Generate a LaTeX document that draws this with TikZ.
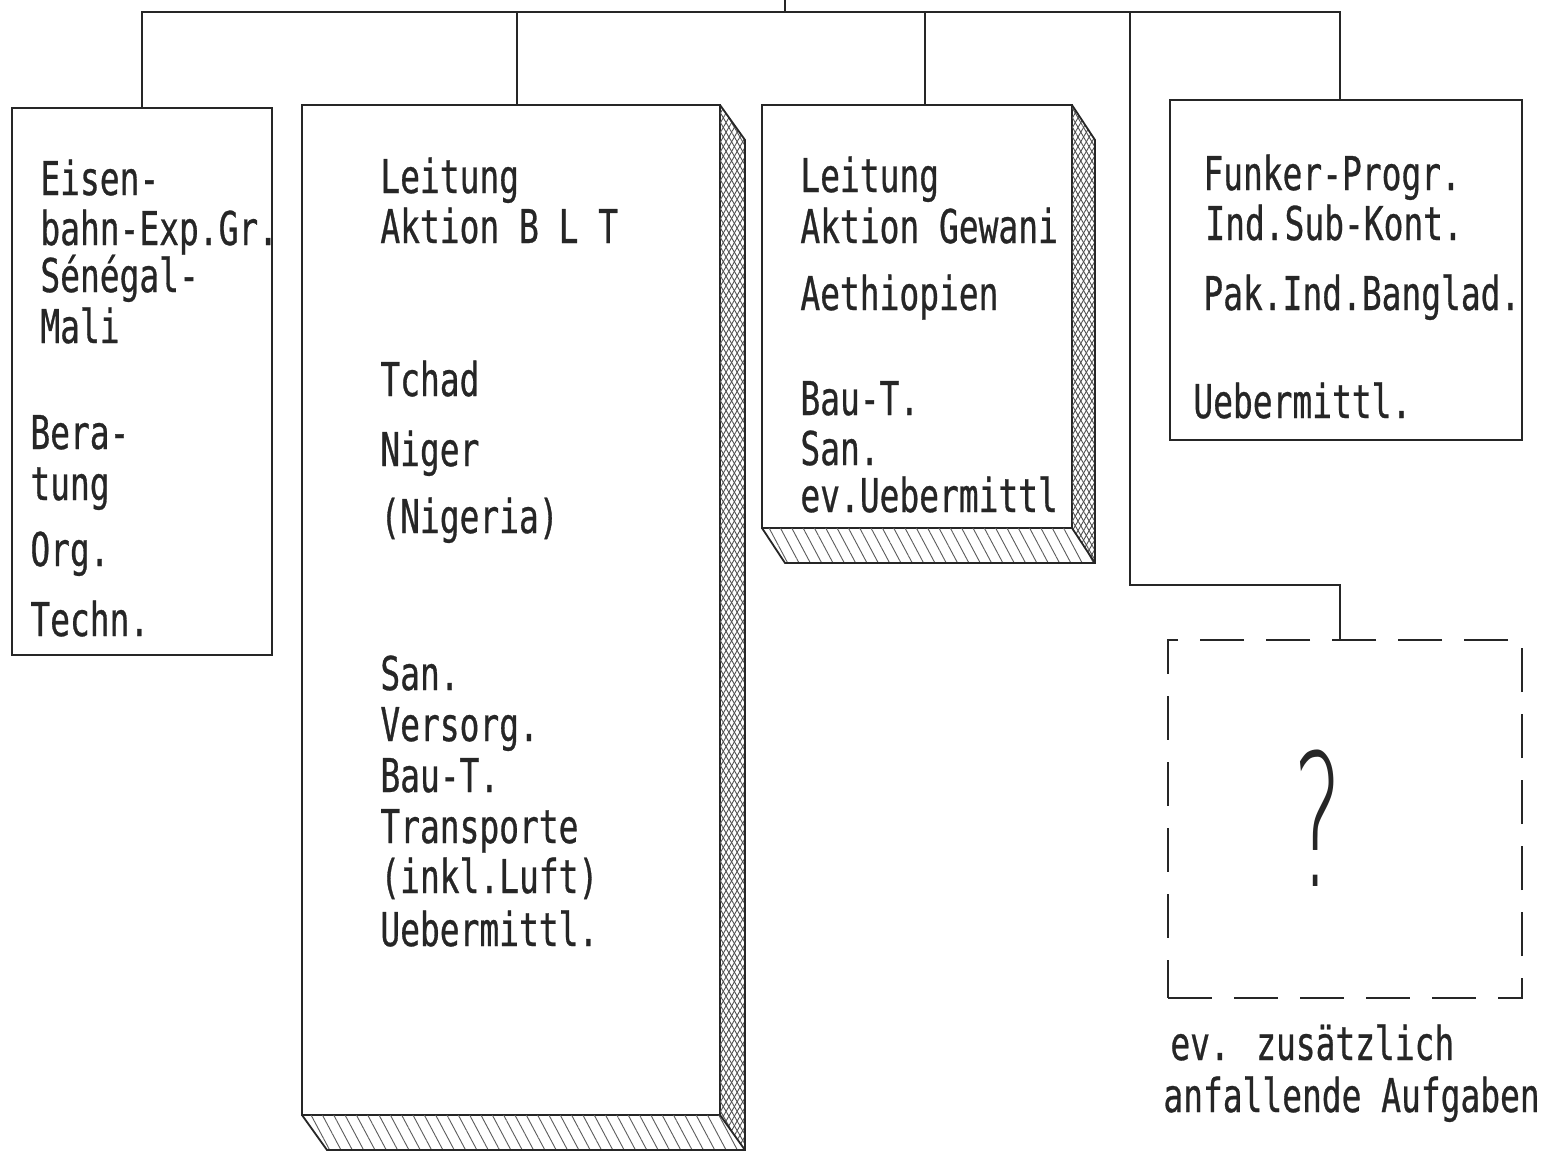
\documentclass[tikz,border=0pt]{standalone}
\usepackage{fontspec}
\newfontfamily\tw[FakeStretch=0.706,FakeBold=0.6]{DejaVu Sans Mono}
\newfontfamily\qf[FakeStretch=0.5]{DejaVu Sans ExtraLight}
\usetikzlibrary{patterns.meta,calc}
\definecolor{ink}{HTML}{262626}
\begin{document}
\begin{tikzpicture}[x=0.5pt,y=-0.5pt,
  box/.style={draw=ink, line width=1.4pt, fill=white, inner sep=0pt, outer sep=0pt, rectangle},
  dbox/.style={box, dash pattern=on 22pt off 11pt},
  conn/.style={draw=ink, line width=1.4pt},
  edge3d/.style={draw=ink, line width=0.9pt},
  xhatch/.style={pattern={Lines[angle=60,distance=2.4pt,line width=0.45pt]}, pattern color=ink!80},
  yhatch/.style={pattern={Lines[angle=-60,distance=2.4pt,line width=0.45pt]}, pattern color=ink!80},
  bhatch/.style={pattern={Lines[angle=-62,distance=5pt,line width=0.45pt]}, pattern color=ink!75},
  txt/.style={anchor=base west, inner sep=0pt, text=ink, font=\tw\fontsize{23.3pt}{26pt}\selectfont}
]
\fill[white] (0,0) rectangle (1542,1169);
\useasboundingbox (0,0) rectangle (1542,1169);

% boxes
\node[box, minimum width=130pt, minimum height=273.5pt] (b1) at (142,381.5) {};
\node[box, minimum width=209pt, minimum height=505pt] (b2) at (511,610) {};
\node[box, minimum width=155pt, minimum height=211.5pt] (b3) at (917,316.5) {};
\node[box, minimum width=176pt, minimum height=170pt] (b4) at (1346,270) {};
\node[dbox, minimum width=177pt, minimum height=179pt] (b5) at (1345,819) {};

% 3D sides of box 2
\fill[xhatch] (b2.north east) -- ++(25,35) -- ($(b2.south east)+(25,35)$) -- (b2.south east) -- cycle;
\fill[yhatch] (b2.north east) -- ++(25,35) -- ($(b2.south east)+(25,35)$) -- (b2.south east) -- cycle;
\fill[bhatch] (b2.south west) -- ++(25,35) -- ($(b2.south east)+(25,35)$) -- (b2.south east) -- cycle;
\draw[edge3d] (b2.north east) -- ++(25,35) -- ($(b2.south east)+(25,35)$) -- ($(b2.south west)+(25,35)$) -- (b2.south west);
\draw[edge3d] (b2.south east) -- ++(25,35);

% 3D sides of box 3
\fill[xhatch] (b3.north east) -- ++(23,35) -- ($(b3.south east)+(23,35)$) -- (b3.south east) -- cycle;
\fill[yhatch] (b3.north east) -- ++(23,35) -- ($(b3.south east)+(23,35)$) -- (b3.south east) -- cycle;
\fill[bhatch] (b3.south west) -- ++(23,35) -- ($(b3.south east)+(23,35)$) -- (b3.south east) -- cycle;
\draw[edge3d] (b3.north east) -- ++(23,35) -- ($(b3.south east)+(23,35)$) -- ($(b3.south west)+(23,35)$) -- (b3.south west);
\draw[edge3d] (b3.south east) -- ++(23,35);

% connectors
\coordinate (root) at (785,0);
\coordinate (j) at (785,12);
\coordinate (k) at (1130,585);
\draw[conn] (root) -- (j);
\draw[conn] (b1.north) |- (j);
\draw[conn] ($(b2.north)+(6,0)$) |- (j);
\draw[conn] ($(b3.north)+(8,0)$) |- (j);
\draw[conn] ($(b4.north)+(-6,0)$) |- (j);
\draw[conn] (j -| k) -- (k) -| ($(b5.north)+(-5,0)$);

% box 1 texts
\node[txt] (t11) at (40,195) {Eisen-};
\node[txt] (t12) at (40,245) {bahn-Exp.Gr.};
\node[txt] (t13) at (40,292) {Sénégal-};
\node[txt] (t14) at (40,343) {Mali};
\node[txt] (t15) at (30,449) {Bera-};
\node[txt] (t16) at (30,500) {tung};
\node[txt] (t17) at (30,566) {Org.};
\node[txt] (t18) at (30,636) {Techn.};

% box 2 texts
\node[txt] (t21) at (380,193) {Leitung};
\node[txt] (t22) at (380,243) {Aktion B L T};
\node[txt] (t23) at (380,396) {Tchad};
\node[txt] (t24) at (380,466) {Niger};
\node[txt] (t25) at (380,533) {(Nigeria)};
\node[txt] (t26) at (380,690) {San.};
\node[txt] (t27) at (380,741) {Versorg.};
\node[txt] (t28) at (380,792) {Bau-T.};
\node[txt] (t29) at (380,843) {Transporte};
\node[txt] (t2a) at (380,893) {(inkl.Luft)};
\node[txt] (t2b) at (380,946) {Uebermittl.};

% box 3 texts
\node[txt] (t31) at (800,192) {Leitung};
\node[txt] (t32) at (800,243) {Aktion Gewani};
\node[txt] (t33) at (800,310) {Aethiopien};
\node[txt] (t34) at (800,415) {Bau-T.};
\node[txt] (t35) at (800,465) {San.};
\node[txt] (t36) at (800,512) {ev.Uebermittl};

% box 4 texts
\node[txt] (t41) at (1203,190) {Funker-Progr.};
\node[txt] (t42) at (1205,240) {Ind.Sub-Kont.};
\node[txt] (t43) at (1203,310) {Pak.Ind.Banglad.};
\node[txt] (t44) at (1193,418) {Uebermittl.};

% dashed box
\node[inner sep=0pt, text=ink, font=\qf\fontsize{92pt}{92pt}\selectfont] (qm) at (1318,818) {?};
\node[txt] (t51) at (1170,1060) {ev. zusätzlich};
\node[txt] (t52) at (1163,1112) {anfallende Aufgaben};
\end{tikzpicture}
\end{document}
